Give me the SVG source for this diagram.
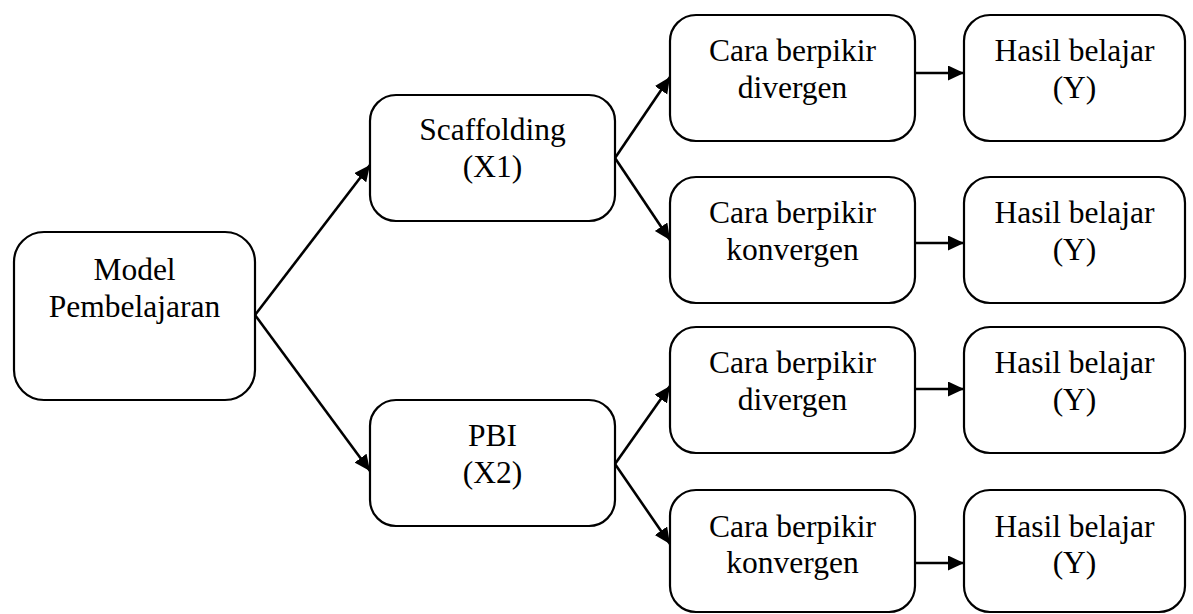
<svg xmlns="http://www.w3.org/2000/svg" width="1193" height="614" viewBox="0 0 1193 614">
  <style>
    .box { fill: #ffffff; stroke: #000000; stroke-width: 2.2; }
    .lbl { font-family: "Liberation Serif", "Times New Roman", serif; font-size: 31.5px; fill: #000000; text-anchor: middle; }
    .conn { stroke: #000000; stroke-width: 2.6; fill: none; marker-end: url(#arrow); }
  </style>
  <defs>
    <marker id="arrow" markerUnits="userSpaceOnUse" markerWidth="18" markerHeight="16" refX="16" refY="7.5" orient="auto">
      <path d="M0,0 L16,7.5 L0,15 z" fill="#000000"/>
    </marker>
  </defs>
  <rect width="1193" height="614" fill="#ffffff"/>

  <g id="connectors">
    <line class="conn" x1="255" y1="315" x2="370" y2="165"/>
    <line class="conn" x1="255" y1="315" x2="370" y2="471"/>
    <line class="conn" x1="615" y1="158" x2="670" y2="77"/>
    <line class="conn" x1="615" y1="158" x2="670" y2="240"/>
    <line class="conn" x1="615" y1="464" x2="670" y2="386"/>
    <line class="conn" x1="615" y1="464" x2="670" y2="544"/>
    <line class="conn" x1="915" y1="73" x2="964" y2="73"/>
    <line class="conn" x1="915" y1="243" x2="964" y2="243"/>
    <line class="conn" x1="915" y1="389" x2="964" y2="389"/>
    <line class="conn" x1="915" y1="563" x2="964" y2="563"/>
  </g>

  <g id="model">
    <rect class="box" x="14" y="232" width="241" height="168" rx="30" ry="30"/>
    <text class="lbl" x="134.5" y="280">Model</text>
    <text class="lbl" x="134.5" y="317">Pembelajaran</text>
  </g>

  <g id="scaffolding">
    <rect class="box" x="370" y="95" width="245" height="126" rx="26" ry="26"/>
    <text class="lbl" x="492.5" y="140">Scaffolding</text>
    <text class="lbl" x="492.5" y="177">(X1)</text>
  </g>

  <g id="pbi">
    <rect class="box" x="370" y="400" width="245" height="126" rx="26" ry="26"/>
    <text class="lbl" x="492.5" y="446">PBI</text>
    <text class="lbl" x="492.5" y="483">(X2)</text>
  </g>

  <g id="divergen1">
    <rect class="box" x="670" y="15" width="245" height="126" rx="26" ry="26"/>
    <text class="lbl" x="792.5" y="61">Cara berpikir</text>
    <text class="lbl" x="792.5" y="98">divergen</text>
  </g>

  <g id="konvergen1">
    <rect class="box" x="670" y="177" width="245" height="126" rx="26" ry="26"/>
    <text class="lbl" x="792.5" y="223">Cara berpikir</text>
    <text class="lbl" x="792.5" y="260">konvergen</text>
  </g>

  <g id="divergen2">
    <rect class="box" x="670" y="327" width="245" height="126" rx="26" ry="26"/>
    <text class="lbl" x="792.5" y="373">Cara berpikir</text>
    <text class="lbl" x="792.5" y="410">divergen</text>
  </g>

  <g id="konvergen2">
    <rect class="box" x="670" y="490" width="245" height="122" rx="26" ry="26"/>
    <text class="lbl" x="792.5" y="537">Cara berpikir</text>
    <text class="lbl" x="792.5" y="573">konvergen</text>
  </g>

  <g id="hasil1">
    <rect class="box" x="964" y="15" width="221" height="126" rx="26" ry="26"/>
    <text class="lbl" x="1074.5" y="61">Hasil belajar</text>
    <text class="lbl" x="1074.5" y="98">(Y)</text>
  </g>

  <g id="hasil2">
    <rect class="box" x="964" y="177" width="221" height="126" rx="26" ry="26"/>
    <text class="lbl" x="1074.5" y="223">Hasil belajar</text>
    <text class="lbl" x="1074.5" y="260">(Y)</text>
  </g>

  <g id="hasil3">
    <rect class="box" x="964" y="327" width="221" height="126" rx="26" ry="26"/>
    <text class="lbl" x="1074.5" y="373">Hasil belajar</text>
    <text class="lbl" x="1074.5" y="410">(Y)</text>
  </g>

  <g id="hasil4">
    <rect class="box" x="964" y="490" width="221" height="122" rx="26" ry="26"/>
    <text class="lbl" x="1074.5" y="537">Hasil belajar</text>
    <text class="lbl" x="1074.5" y="573">(Y)</text>
  </g>
</svg>
